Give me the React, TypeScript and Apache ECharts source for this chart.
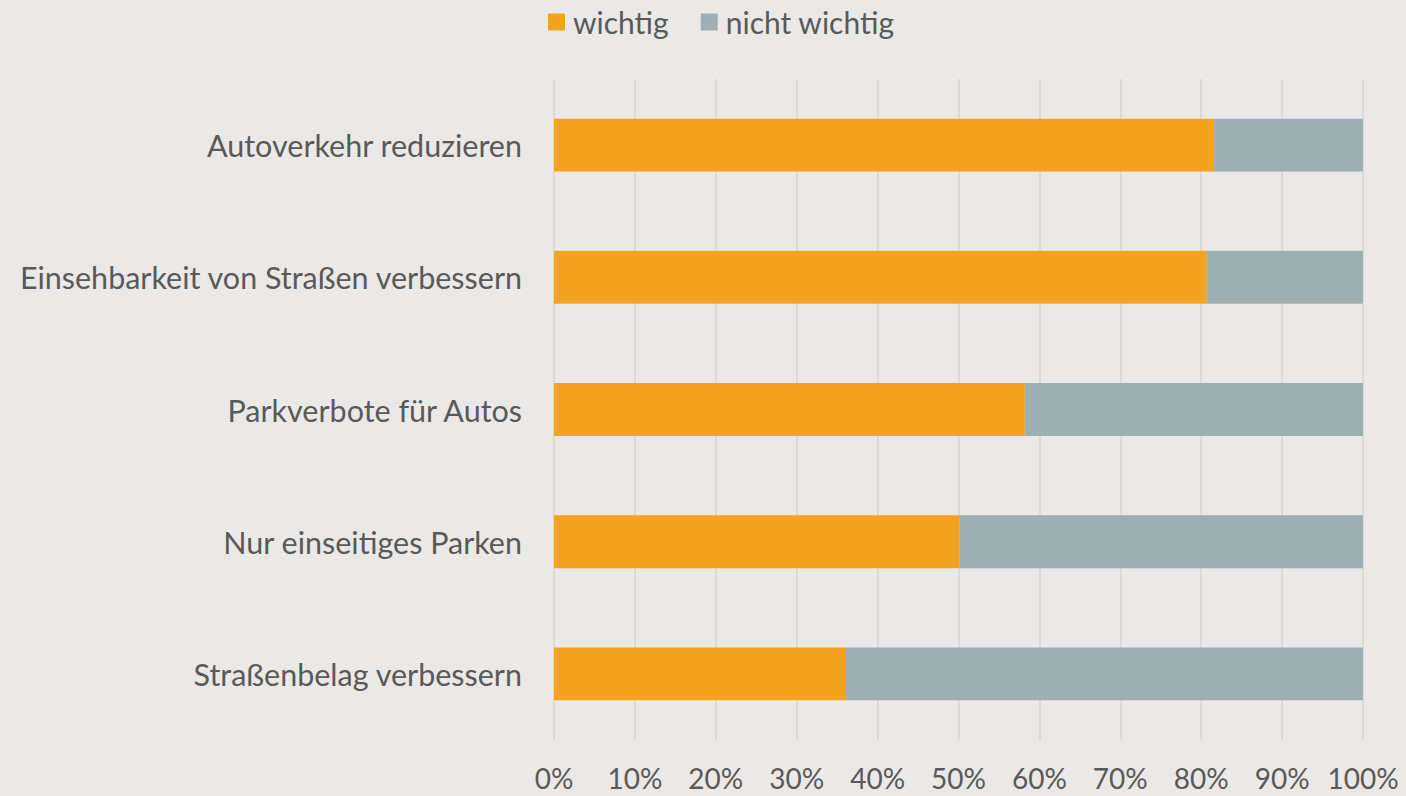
import React, { useEffect, useRef } from "react";
import * as echarts from "echarts";

const categories = [
  "Autoverkehr reduzieren",
  "Einsehbarkeit von Straßen verbessern",
  "Parkverbote für Autos",
  "Nur einseitiges Parken",
  "Straßenbelag verbessern",
];
const wichtig = [81.6, 80.7, 58.2, 50.1, 36.1];
const nichtWichtig = wichtig.map((v) => +(100 - v).toFixed(1));
const seriesNames = ["wichtig", "nicht wichtig"];

const FONT = "Lato, 'Open Sans', sans-serif";
const TEXT = "#595959";

export default function App() {
  const ref = useRef<HTMLDivElement>(null);
  useEffect(() => {
    if (!ref.current) return;
    const chart = echarts.init(ref.current, null, { renderer: "svg" });
    chart.setOption({
      animation: false,
      backgroundColor: "#ebe9e7",
      textStyle: { fontFamily: FONT },
      legend: {
        top: 2,
        left: 543,
        itemWidth: 17,
        itemHeight: 17,
        itemGap: 32,
        icon: "rect",
        textStyle: {
          fontSize: 30,
          color: TEXT,
          fontFamily: FONT,
          padding: [0, 0, 0, 3],
        },
        data: seriesNames,
      },
      grid: { left: 554, right: 43, top: 79, bottom: 56, containLabel: false },
      xAxis: {
        type: "value",
        min: 0,
        max: 100,
        interval: 10,
        axisLine: { show: false },
        axisTick: { show: false },
        splitLine: { show: true, lineStyle: { color: "#d6d4d2", width: 1.5 } },
        axisLabel: {
          formatter: "{value}%",
          fontSize: 28,
          color: TEXT,
          margin: 24,
          fontFamily: FONT,
        },
      },
      yAxis: {
        type: "category",
        inverse: true,
        data: categories,
        axisLine: { show: false },
        axisTick: { show: false },
        axisLabel: { fontSize: 30.5, color: TEXT, margin: 32, fontFamily: FONT },
      },
      series: [
        {
          name: seriesNames[0],
          type: "bar",
          stack: "total",
          barWidth: "40%",
          itemStyle: { color: "#f5a31e" },
          data: wichtig,
        },
        {
          name: seriesNames[1],
          type: "bar",
          stack: "total",
          barWidth: "40%",
          itemStyle: { color: "#9eafb4" },
          data: nichtWichtig,
        },
      ],
    });
    return () => chart.dispose();
  }, []);
  return (
    <div
      ref={ref}
      style={{ position: "absolute", left: 0, top: 0, width: 1406, height: 796 }}
    />
  );
}
